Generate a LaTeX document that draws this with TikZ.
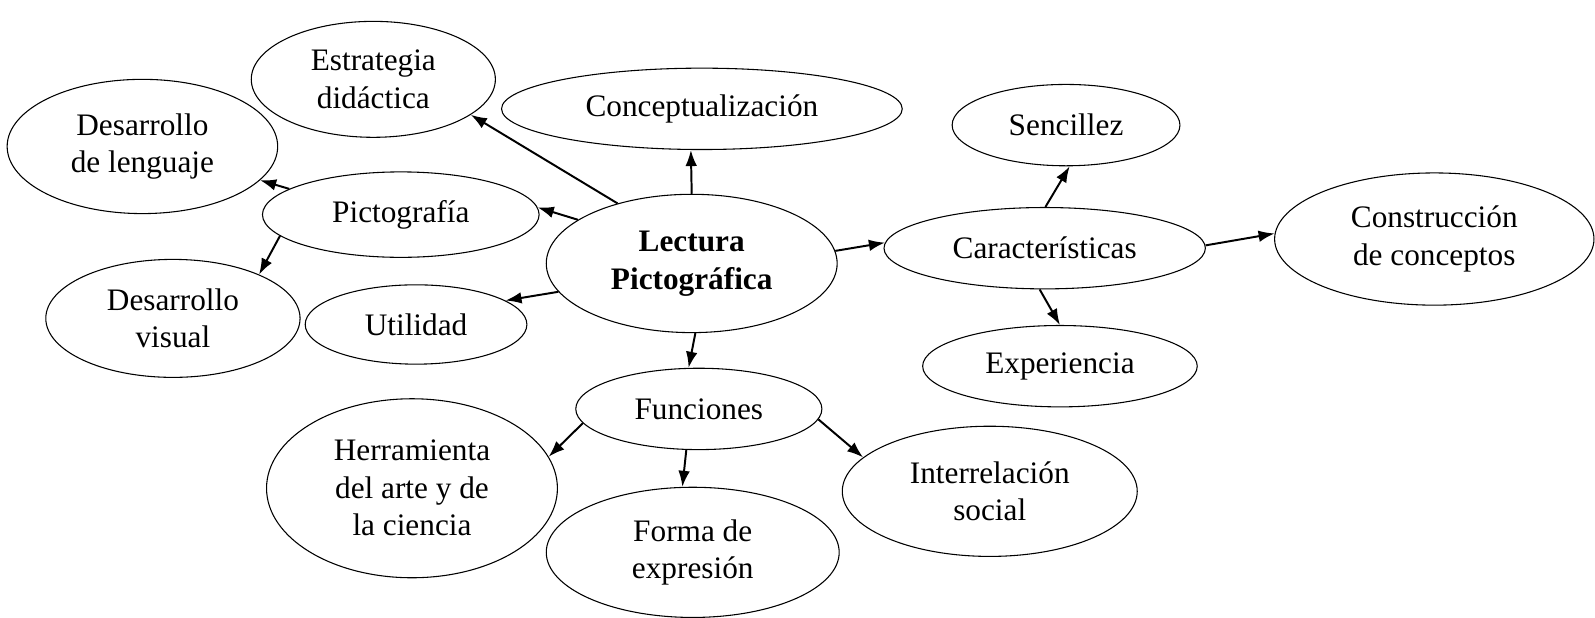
\documentclass[tikz,border=0pt]{standalone}
\usepackage{fontspec}
\setmainfont{Liberation Serif}
\usetikzlibrary{shapes.geometric,arrows.meta}
\begin{document}
\begin{tikzpicture}[x=0.02cm,y=-0.02cm,
   idea/.style={ellipse,draw,line width=0.6pt,align=center,inner sep=0pt,
     font=\fontsize{17.5}{21}\selectfont},
   flecha/.style={-{Latex[length=9pt,width=6.5pt]},line width=1.1pt}]
   \useasboundingbox (0,0) rectangle (1568,607);

   \node[idea,minimum width=4.8cm,minimum height=2.28cm] (estr) at (367,78) {Estrategia\\did\'actica};
   \node[idea,minimum width=7.88cm,minimum height=1.6cm] (conc) at (690,107) {Conceptualizaci\'on};
   \node[idea,minimum width=5.32cm,minimum height=2.64cm] (leng) at (140,144) {Desarrollo\\de lenguaje};
   \node[idea,minimum width=5.44cm,minimum height=1.68cm] (picto) at (394,211) {Pictograf\'ia};
   \node[idea,minimum width=5.72cm,minimum height=2.72cm,font=\fontsize{17.5}{21}\selectfont\bfseries] (lect) at (680,259) {Lectura\\Pictogr\'afica};
   \node[idea,minimum width=5cm,minimum height=2.32cm] (visual) at (170,313) {Desarrollo\\visual};
   \node[idea,minimum width=4.36cm,minimum height=1.56cm] (util) at (409,319) {Utilidad};
   \node[idea,minimum width=4.84cm,minimum height=1.6cm] (func) at (687,402) {Funciones};
   \node[idea,minimum width=5.72cm,minimum height=3.52cm] (herr) at (405,480) {Herramienta\\del arte y de\\la ciencia};
   \node[idea,minimum width=5.76cm,minimum height=2.56cm] (forma) at (681,543) {Forma de\\expresi\'on};
   \node[idea,minimum width=5.8cm,minimum height=2.56cm] (inter) at (973,483) {Interrelaci\'on\\social};
   \node[idea,minimum width=4.48cm,minimum height=1.6cm] (senc) at (1048,123) {Sencillez};
   \node[idea,minimum width=6.32cm,minimum height=1.6cm] (carac) at (1027,244) {Caracter\'isticas};
   \node[idea,minimum width=6.28cm,minimum height=2.6cm] (constr) at (1410,235) {Construcci\'on\\de conceptos};
   \node[idea,minimum width=5.4cm,minimum height=1.6cm] (exper) at (1042,360) {Experiencia};

   \draw[flecha] (lect.141) -- (estr.340);
   \draw[flecha] (lect.90) -- (conc.255);
   \draw[flecha] (lect.159) -- (picto.3);
   \draw[flecha] (picto.167) -- (leng.344);
   \draw[flecha] (picto.190) -- (visual.27);
   \draw[flecha] (lect.192) -- (util.15);
   \draw[flecha] (lect.273) -- (func.104);
   \draw[flecha] (lect.5) -- (carac.178);
   \draw[flecha] (carac.89) -- (senc.275);
   \draw[flecha] (carac.1) -- (constr.178);
   \draw[flecha] (carac.263) -- (exper.90);
   \draw[flecha] (func.187) -- (herr.13);
   \draw[flecha] (func.253) -- (forma.99);
   \draw[flecha] (func.355) -- (inter.165);
 \end{tikzpicture}
\end{document}
